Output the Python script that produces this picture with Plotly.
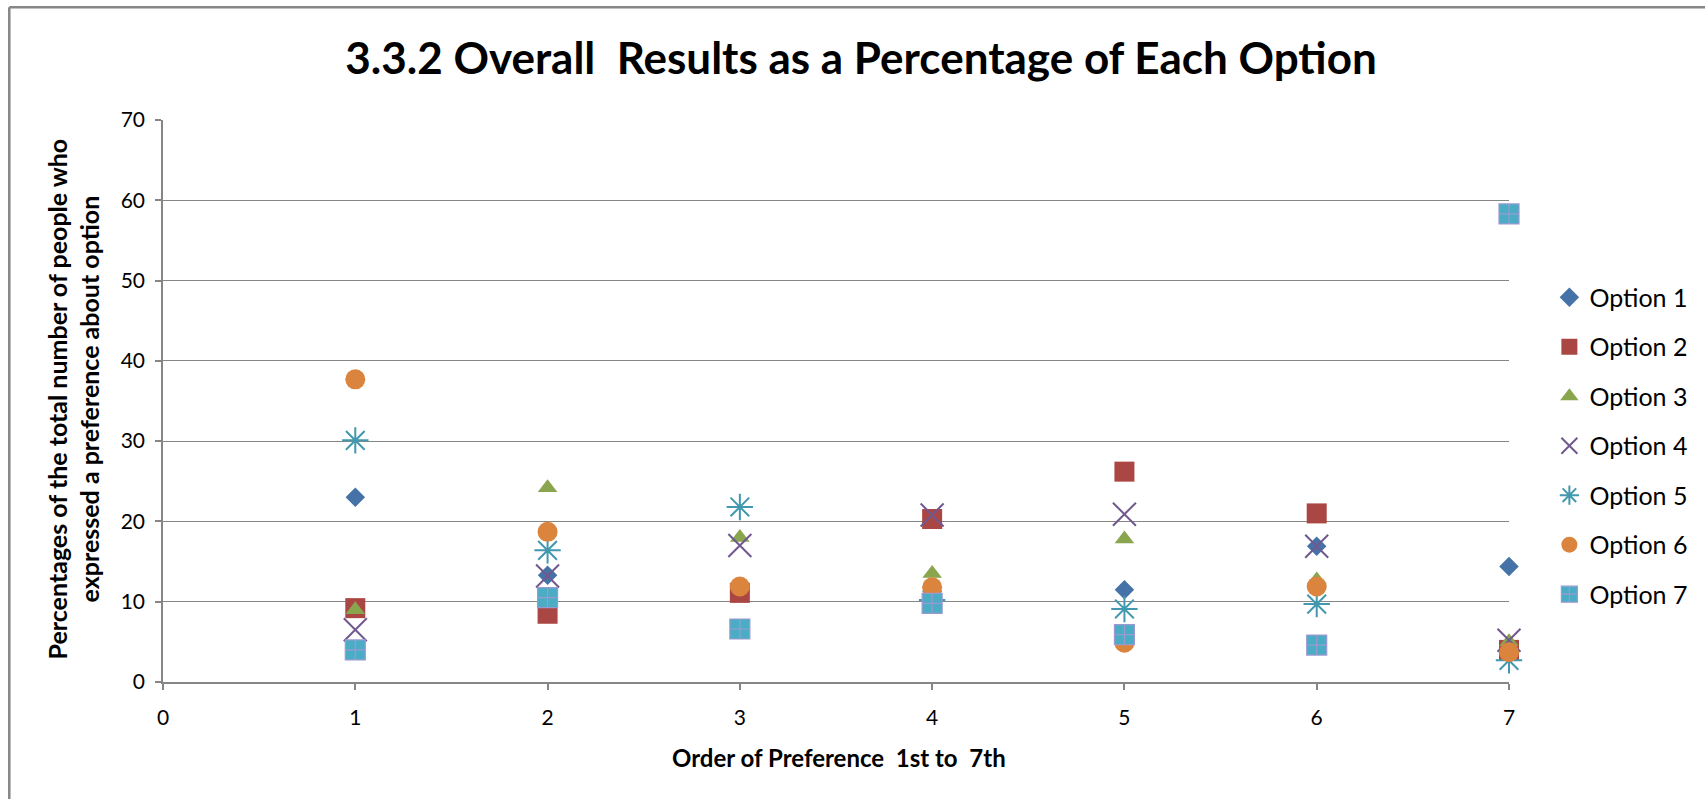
import plotly.graph_objects as go

# Order of preference (1st .. 7th)
ranks = [1, 2, 3, 4, 5, 6, 7]

# Percentage of respondents placing each option at each rank
option_1 = [23.0, 13.3, 11.2, 9.8, 11.5, 16.9, 14.4]
option_2 = [9.2, 8.5, 11.1, 20.3, 26.2, 21.0, 4.0]
option_3 = [9.0, 24.2, 18.0, 13.5, 17.8, 12.7, 5.0]
option_4 = [6.5, 13.2, 17.0, 20.8, 20.9, 16.9, 5.2]
option_5 = [30.1, 16.4, 21.8, 10.2, 9.1, 9.7, 2.7]
option_6 = [37.7, 18.7, 11.9, 11.8, 4.9, 11.9, 3.7]
option_7 = [4.0, 10.5, 6.6, 9.8, 5.9, 4.6, 58.3]

series_names = ["Option 1", "Option 2", "Option 3", "Option 4",
                "Option 5", "Option 6", "Option 7"]
series_values = [option_1, option_2, option_3, option_4,
                 option_5, option_6, option_7]

x_ticks = [0, 1, 2, 3, 4, 5, 6, 7]
y_ticks = [0, 10, 20, 30, 40, 50, 60, 70]

FONT = "Lato"
GRID = "#868686"

styles = [
    dict(symbol="diamond", size=15, color="#4572A7"),
    dict(symbol="square", size=20, color="#AA4643"),
    dict(symbol="triangle-up", size=17, color="#89A54E"),
    dict(symbol="x-thin-open", size=23, color="#71588F", line=dict(width=2, color="#71588F")),
    dict(symbol="asterisk-open", size=22, color="#4198AF", line=dict(width=2, color="#4198AF")),
    dict(symbol="circle", size=20, color="#DB843D"),
    dict(symbol="square-cross", size=20, color="#4BACC6", line=dict(width=1.2, color="#9A9AD0")),
]

fig = go.Figure()
for name, vals, st in zip(series_names, series_values, styles):
    marker = dict(symbol=st["symbol"], size=st["size"], color=st["color"])
    marker["line"] = st.get("line", dict(width=0))
    fig.add_trace(go.Scatter(
        x=ranks, y=vals, mode="markers", name=name, legendgroup=name,
        marker=marker, cliponaxis=False,
    ))

fig.update_layout(
    width=1705, height=799,
    margin=dict(l=163, r=194, t=120, b=117),
    paper_bgcolor="white", plot_bgcolor="white",
    font=dict(family=FONT, size=21, color="#000000"),
    title=dict(
        text="<b>3.3.2 Overall  Results as a Percentage of Each Option</b>",
        x=0.505, xref="container", xanchor="center",
        y=0.927, yref="container", yanchor="middle",
        font=dict(family=FONT, size=44, color="#000000"),
    ),
    showlegend=True,
    legend=dict(
        x=1.03, xanchor="left", y=0.42, yanchor="middle",
        font=dict(family=FONT, size=25, color="#000000"),
        traceorder="grouped", tracegroupgap=14,
        bgcolor="rgba(0,0,0,0)",
    ),
    xaxis=dict(
        range=[0, 7], tickvals=x_ticks, ticktext=[str(v) for v in x_ticks],
        showgrid=False, zeroline=False,
        showline=True, linecolor=GRID, linewidth=1.5,
        ticks="outside", ticklen=6, tickcolor=GRID, tickwidth=1.5,
        ticklabelstandoff=10,
        tickfont=dict(family=FONT, size=21), fixedrange=True,
    ),
    yaxis=dict(
        range=[0, 70], tickvals=y_ticks, ticktext=[str(v) for v in y_ticks],
        showgrid=True, gridcolor=GRID, gridwidth=1.3, zeroline=False,
        showline=True, linecolor=GRID, linewidth=1.5,
        ticks="outside", ticklen=6, tickcolor=GRID, tickwidth=1.5,
        ticklabelstandoff=6,
        tickfont=dict(family=FONT, size=21), fixedrange=True,
    ),
    annotations=[
        dict(
            text="<b>Percentages of the total number of people who<br>expressed a preference about option</b>",
            x=-0.0668, xref="paper", xanchor="center",
            y=0.503, yref="paper", yanchor="middle",
            textangle=-90, showarrow=False,
            font=dict(family=FONT, size=25, color="#000000"),
        ),
        dict(
            text="<b>Order of Preference  1st to  7th</b>",
            x=0.502, xref="paper", xanchor="center",
            y=-0.135, yref="paper", yanchor="middle",
            showarrow=False,
            font=dict(family=FONT, size=24, color="#000000"),
        ),
    ],
    shapes=[
        # chart-area frame: left and top edges
        dict(type="line", xref="paper", yref="paper",
             x0=-0.1142, x1=-0.1142, y0=-0.5, y1=1.2005,
             line=dict(color=GRID, width=2.5), layer="below"),
        dict(type="line", xref="paper", yref="paper",
             x0=-0.1142, x1=1.6, y0=1.2005, y1=1.2005,
             line=dict(color=GRID, width=2.5), layer="below"),
    ],
)

fig.write_html("out.html", config={"displayModeBar": False})
